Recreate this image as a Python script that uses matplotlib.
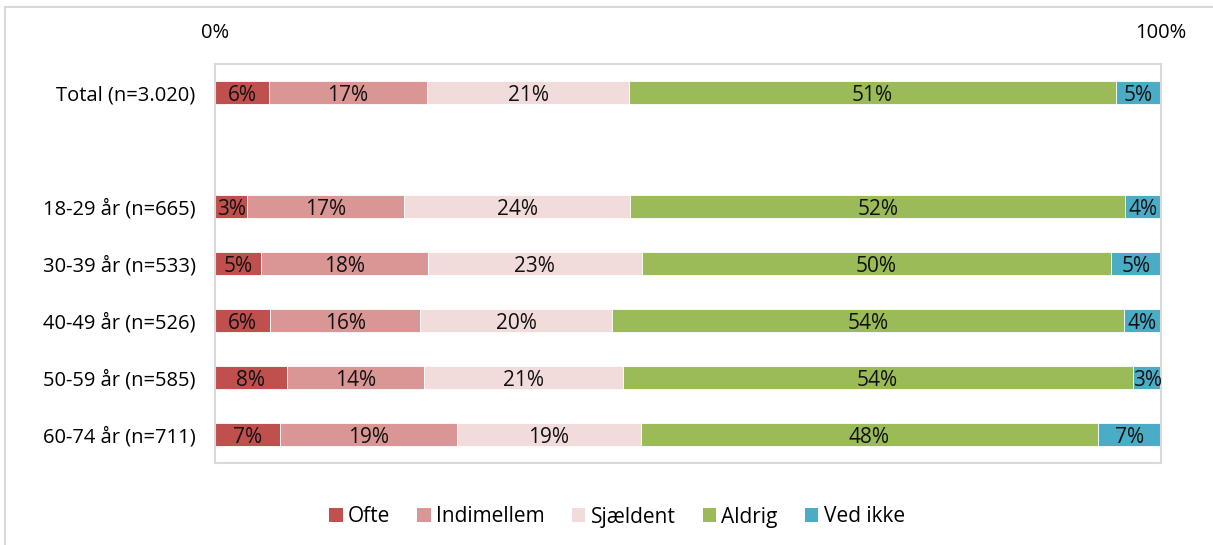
import matplotlib
matplotlib.use("Agg")
import matplotlib.pyplot as plt
from matplotlib.lines import Line2D
from matplotlib.patches import Patch

categories = ["Total (n=3.020)", "", "18-29 år (n=665)", "30-39 år (n=533)",
              "40-49 år (n=526)", "50-59 år (n=585)", "60-74 år (n=711)"]
series_names = ["Ofte", "Indimellem", "Sjældent", "Aldrig", "Ved ikke"]
ofte       = [5.7, None, 3.4, 4.9, 5.8, 7.6, 6.9]
indimellem = [16.7, None, 16.6, 17.6, 15.9, 14.5, 18.7]
sjaeldent  = [21.4, None, 23.9, 22.6, 20.3, 21.0, 19.4]
aldrig     = [51.4, None, 52.3, 49.6, 54.1, 53.9, 48.3]
ved_ikke   = [4.8, None, 3.8, 5.3, 3.9, 3.1, 6.8]
colors = ["#C0504D", "#DA9694", "#F2DCDB", "#9BBB59", "#4BACC6"]
xtick_vals = [0, 100]
xtick_labels = ["0%", "100%"]

plt.rcParams['font.family'] = ['Open Sans', 'DejaVu Sans']

fig = plt.figure(figsize=(12.13, 5.45), dpi=100)
ax = fig.add_axes([215/1213, 1-463/545, (1161-215)/1213, (463-64)/545])

series = [ofte, indimellem, sjaeldent, aldrig, ved_ikke]
for i, cat in enumerate(categories):
    if series[0][i] is None:
        continue
    left = 0.0
    for s, col in zip(series, colors):
        v = s[i]
        ax.barh(i, v, left=left, height=0.39, color=col, edgecolor='white', linewidth=0.6)
        ax.text(left + v/2, i, f"{v:.0f}%", ha='center', va='center_baseline',
                fontsize=15, color='#111111')
        left += v

ax.set_ylim(6.5, -0.5)
ax.set_xlim(0, 100)
ax.set_yticks(range(len(categories)))
ax.set_yticklabels(categories, fontsize=14.5)
ax.xaxis.tick_top()
ax.set_xticks(xtick_vals)
ax.set_xticklabels(xtick_labels, fontsize=14.5)
ax.tick_params(axis='x', length=0, pad=15)
ax.tick_params(axis='y', length=0, pad=14)
for sp in ax.spines.values():
    sp.set_color('#d9d9d9')
    sp.set_linewidth(1.5)

handles = [Patch(facecolor=c, edgecolor='none') for c in colors]
fig.legend(handles, series_names, loc='center', bbox_to_anchor=(617/1213, 1-517/545),
           ncol=5, frameon=False, fontsize=15, handlelength=0.65, handleheight=0.65,
           handletextpad=0.25, columnspacing=1.3)

fig.add_artist(Line2D([5/1213, 1], [1-7/545, 1-7/545], color='#d9d9d9', lw=1.5, transform=fig.transFigure))
fig.add_artist(Line2D([5/1213, 5/1213], [0, 1-7/545], color='#d9d9d9', lw=1.5, transform=fig.transFigure))

fig.savefig("out.png", dpi=100)
